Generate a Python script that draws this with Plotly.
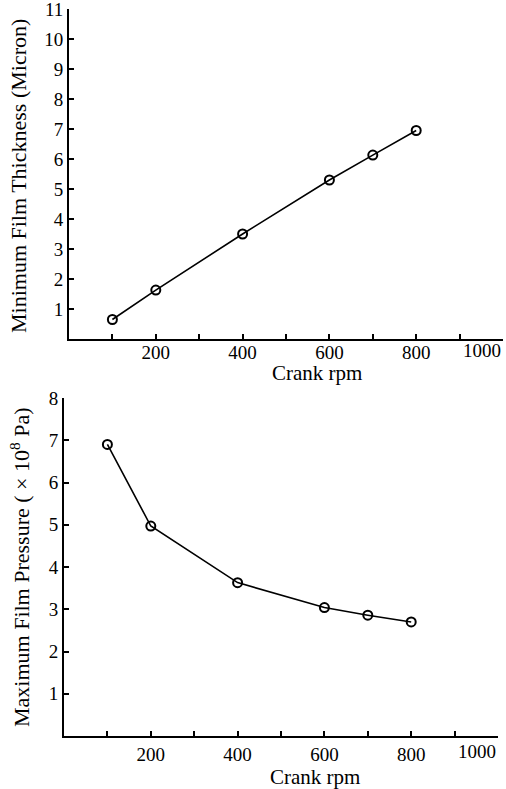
import plotly.graph_objects as go

# Data
rpm = [100, 200, 400, 600, 700, 800]
min_film_thickness = [0.65, 1.63, 3.5, 5.3, 6.13, 6.95]
max_film_pressure = [6.9, 4.97, 3.63, 3.04, 2.86, 2.7]

x_tickvals = [200, 400, 600, 800]
x_ticktext = ["200", "400", "600", "800"]
x_minor_ticks = [100, 300, 500, 700, 900, 1000]
top_y_ticks = [1, 2, 3, 4, 5, 6, 7, 8, 9, 10, 11]
bot_y_ticks = [1, 2, 3, 4, 5, 6, 7, 8]

FONT = "Liberation Serif"
W, H = 506, 789

def px_x(p):
    return p / W

def px_y(p):
    return 1 - p / H

fig = go.Figure()
line_style = dict(color="black", width=1.6)
marker_style = dict(symbol="circle-open", size=9, color="black", line=dict(width=2, color="black"))

fig.add_trace(go.Scatter(x=rpm, y=min_film_thickness, mode="lines+markers",
                         line=line_style, marker=marker_style, xaxis="x", yaxis="y",
                         showlegend=False))
fig.add_trace(go.Scatter(x=rpm, y=max_film_pressure, mode="lines+markers",
                         line=line_style, marker=marker_style, xaxis="x2", yaxis="y2",
                         showlegend=False))

axis_common = dict(showgrid=False, zeroline=False, showline=True, linecolor="black",
                   linewidth=2, ticks="inside", ticklen=5, tickwidth=1.5, tickcolor="black",
                   automargin=False, ticklabeloverflow="allow",
                   tickfont=dict(family=FONT, size=19, color="black"))
minor_x = dict(tickmode="array", tickvals=x_minor_ticks, ticks="inside", ticklen=5,
               tickwidth=1.5, tickcolor="black", showgrid=False)

fig.update_layout(
    width=W, height=H,
    margin=dict(l=0, r=0, t=0, b=0),
    paper_bgcolor="white", plot_bgcolor="white",
    xaxis=dict(domain=[px_x(69), px_x(503)], range=[0, 1000], anchor="y",
               tickmode="array", tickvals=x_tickvals, ticktext=x_ticktext,
               ticklabelstandoff=-5, minor=minor_x, **axis_common),
    yaxis=dict(domain=[px_y(339), px_y(9)], range=[0, 11], anchor="x",
               tickmode="array", tickvals=top_y_ticks, **axis_common),
    xaxis2=dict(domain=[px_x(64), px_x(498)], range=[0, 1000], anchor="y2",
                tickmode="array", tickvals=x_tickvals, ticktext=x_ticktext,
                minor=minor_x, **axis_common),
    yaxis2=dict(domain=[px_y(736), px_y(398)], range=[0, 8], anchor="x2",
                tickmode="array", tickvals=bot_y_ticks, **axis_common),
)

title_font = dict(family=FONT, size=22, color="black")
xtitle_font = dict(family=FONT, size=21, color="black")
tick_font = dict(family=FONT, size=19, color="black")
annotations = [
    # axis titles
    dict(text="Crank rpm", x=px_x(317), y=px_y(373), xref="paper", yref="paper",
         xanchor="center", yanchor="middle", showarrow=False, font=xtitle_font),
    dict(text="Crank rpm", x=px_x(315), y=px_y(777), xref="paper", yref="paper",
         xanchor="center", yanchor="middle", showarrow=False, font=xtitle_font),
    dict(text="Minimum Film Thickness (Micron)", x=px_x(18), y=px_y(176),
         xref="paper", yref="paper", xanchor="center", yanchor="middle",
         textangle=-90, showarrow=False, font=title_font),
    dict(text="Maximum Film Pressure ( × 10<sup>8</sup> Pa)", x=px_x(20), y=px_y(567),
         xref="paper", yref="paper", xanchor="center", yanchor="middle",
         textangle=-90, showarrow=False, font=title_font),
    # "1000" end labels, right aligned to the axis end
    dict(text="1000", x=1, y=0, xref="x domain", yref="y domain", xanchor="right",
         yanchor="top", yshift=1, showarrow=False, font=tick_font),
    dict(text="1000", x=1, y=0, xref="x2 domain", yref="y2 domain", xanchor="right",
         yanchor="top", yshift=-3, showarrow=False, font=tick_font),
]
fig.update_layout(annotations=annotations)

fig.write_html("out.html")
